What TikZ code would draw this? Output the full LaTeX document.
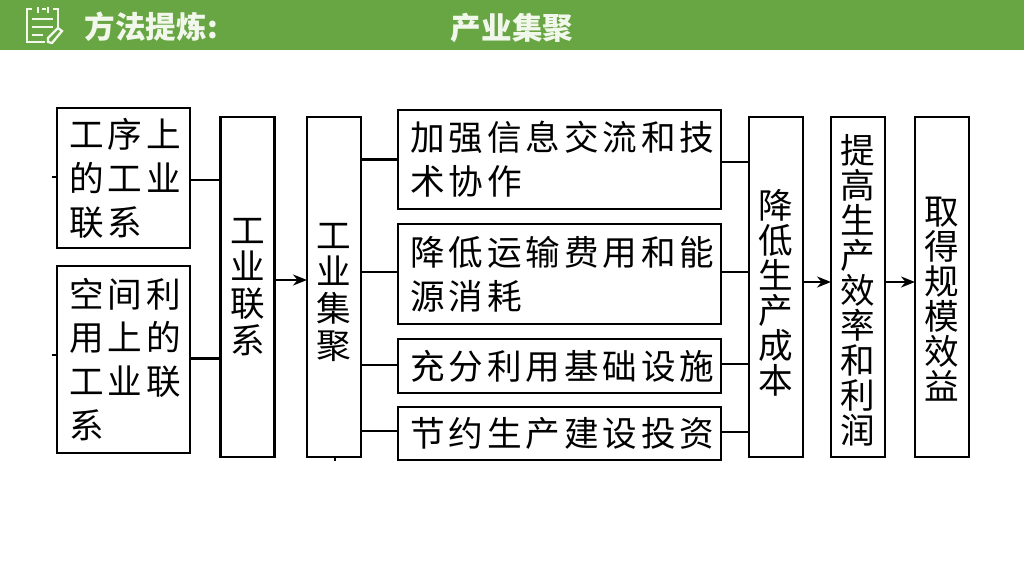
\documentclass[tikz,border=0pt]{standalone}
\usepackage{fontspec}
\setmainfont{Noto Sans CJK SC}
\newfontfamily\cjkbox[LetterSpace=11]{Noto Sans CJK SC}
\usetikzlibrary{arrows.meta}
\definecolor{headgreen}{HTML}{68A543}
\definecolor{headtext}{HTML}{F2F7EC}
\tikzset{
  hbox/.style={draw, line width=0.65pt, inner sep=0pt, outer sep=0pt, align=left,
    font=\fontsize{9.85}{12.5}\selectfont\cjkbox},
  vbox/.style={draw, line width=0.65pt, inner sep=0pt, outer sep=0pt, align=center,
    minimum width=0.54cm, minimum height=3.4cm, text width=0.54cm,
    font=\fontsize{9.85}{10.5}\selectfont\cjkbox},
  vtight/.style={font=\fontsize{9.85}{9.95}\selectfont\cjkbox},
  link/.style={line width=0.6pt},
  linkarrow/.style={line width=0.6pt, -{Stealth[length=0.14cm,width=0.11cm]}},
  headtitle/.style={text=headtext, font=\fontsize{8.7}{10}\selectfont\bfseries, inner sep=0pt},
  iconline/.style={draw=headtext, line width=0.65pt}
}
\begin{document}
\begin{tikzpicture}
   \useasboundingbox (0, 0) rectangle (10.24, 5.76);

   % header
   \fill[headgreen] (0, 5.26) rectangle (10.24, 5.76);
   \node[headtitle, anchor=west] (head) at (0.84, 5.49) {方法提炼:};
   \node[headtitle] (topic) at (5.12, 5.475) {产业集聚};

   % clipboard icon
   \draw[iconline] (0.32, 5.67) -- (0.27, 5.67) -- (0.27, 5.34) -- (0.45, 5.34);
   \draw[iconline] (0.42, 5.67) -- (0.46, 5.67);
   \draw[iconline] (0.53, 5.67) -- (0.58, 5.67) -- (0.58, 5.46);
   \draw[iconline] (0.38, 5.69) -- (0.38, 5.63);
   \draw[iconline] (0.48, 5.69) -- (0.48, 5.63);
   \draw[iconline] (0.32, 5.57) -- (0.53, 5.57);
   \draw[iconline] (0.32, 5.49) -- (0.53, 5.49);
   \draw[iconline] (0.32, 5.41) -- (0.43, 5.41);
   \draw[iconline] (0.48, 5.34) -- (0.52, 5.33) -- (0.62, 5.45) -- (0.58, 5.48) -- (0.48, 5.38) -- cycle;

   % left boxes
   \node[hbox, minimum width=1.33cm, minimum height=1.4cm, text width=1.08cm] (spatialA) at (1.235, 3.98) {工序上\\的工业\\联系};
   \node[hbox, minimum width=1.33cm, minimum height=1.87cm, text width=1.08cm] (spatialB) at (1.235, 2.165) {空间利\\用上的\\工业联\\系};

   % columns
   \node[vbox] (link) at (2.475, 2.89) {工\\业\\联\\系};
   \node[vbox] (cluster) at (3.34, 2.89) {\rule{0pt}{0.36cm}工\\业\\集\\聚};
   \node[vbox, vtight] (cost) at (7.76, 2.89) {\rule{0pt}{0.41cm}降\\低\\生\\产\\成\\本};
   \node[vbox, vtight] (profit) at (8.58, 2.89) {\rule{0pt}{0.36cm}提\\高\\生\\产\\效\\率\\和\\利\\润};
   \node[vbox, vtight] (scale) at (9.42, 2.89) {\rule{0pt}{0.52cm}取\\得\\规\\模\\效\\益};

   % middle boxes
   \node[hbox, minimum width=3.23cm, minimum height=0.99cm, text width=2.98cm] (effA) at (5.595, 4.165) {加强信息交流和技\\术协作};
   \node[hbox, minimum width=3.23cm, minimum height=1cm, text width=2.98cm] (effB) at (5.595, 3.02) {降低运输费用和能\\源消耗};
   \node[hbox, minimum width=3.23cm, minimum height=0.54cm, text width=2.98cm] (effC) at (5.595, 2.1) {充分利用基础设施};
   \node[hbox, minimum width=3.23cm, minimum height=0.53cm, text width=2.98cm] (effD) at (5.595, 1.425) {节约生产建设投资};

   % connectors
   \draw[link] ([yshift=-0.02cm]spatialA.east) -- ([yshift=-0.02cm]spatialA.east -| link.west);
   \draw[link] ([yshift=0.01cm]spatialB.east) -- ([yshift=0.01cm]spatialB.east -| link.west);
   \draw[linkarrow] ([yshift=0.07cm]link.east) -- ([yshift=0.07cm]cluster.west);
   \draw[linkarrow] ([yshift=0.05cm]cost.east) -- ([yshift=0.05cm]profit.west);
   \draw[linkarrow] ([yshift=0.05cm]profit.east) -- ([yshift=0.05cm]scale.west);

   \foreach \id/\up/\down in {effA/0/-0.025, effB/0.02/0.02, effC/0.01/0.02, effD/0.025/0.015} {
    \draw[link] ([yshift=\up cm]\id.west) -- ([yshift=\up cm]\id.west -| cluster.east);
    \draw[link] ([yshift=\down cm]\id.east) -- ([yshift=\down cm]\id.east -| cost.west);
   }

   % small stubs
   \coordinate (stubA) at (0.52, 3.99);
   \coordinate (stubB) at (0.52, 2.21);
   \coordinate (stubC) at (3.35, 1.15);
   \draw[link] (stubA) -- (stubA -| spatialA.west);
   \draw[link] (stubB) -- (stubB -| spatialB.west);
   \draw[link] (stubC) -- (stubC |- cluster.south);
\end{tikzpicture}
\end{document}
